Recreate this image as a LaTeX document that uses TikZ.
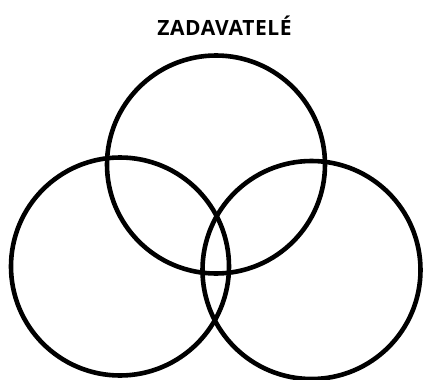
\documentclass[tikz,border=0pt]{standalone}
\usepackage{fontspec}
\setmainfont{Open Sans}
\tikzset{ring/.style={circle,draw,line width=4.6pt,minimum size=218pt,inner sep=0pt}}

\begin{document}
\begin{tikzpicture}[x=1pt,y=-1pt]
\useasboundingbox (0,0) rectangle (424,380);
\node[ring] (zadtop) at (216,164.5) {};
\node[ring] (zadleft) at (120,266.5) {};
\node[ring] (zadright) at (311.5,270) {};
\node[font=\bfseries\fontsize{21}{25}\selectfont\addfontfeature{LetterSpace=3}] (title) at (224.5,26) {ZADAVATELÉ};
\end{tikzpicture}
\end{document}
